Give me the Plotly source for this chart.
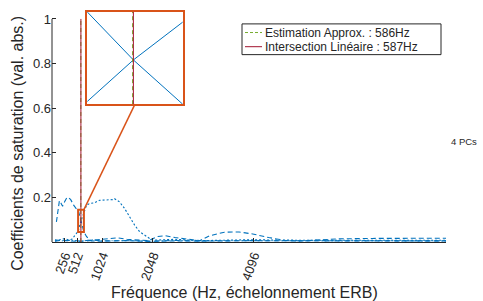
import plotly.graph_objects as go

# ---------------- data ----------------
freq_a = [90, 120, 150, 180, 215, 256, 300, 330, 380, 440, 490, 530, 587, 648, 700, 750, 800, 900,
          1000, 1500, 2000, 2500, 3000, 4000, 5000, 6000, 7000, 8000]
coef_a = [0.09, 0.14, 0.185, 0.175, 0.16, 0.18, 0.198, 0.2, 0.19, 0.165, 0.15, 0.145, 0.093, 0.045,
          0.025, 0.012, 0.005, 0.003, 0.004, 0.006, 0.003, 0.005, 0.004, 0.006, 0.005, 0.006, 0.005, 0.005]

freq_b = [60, 150, 250, 330, 400, 450, 490, 530, 587, 648, 700, 765, 865, 967, 1100, 1230, 1270, 1370,
          1475, 1580, 1680, 1780, 1880, 1980, 2060, 2200, 2500, 3000, 3500, 4000, 5000, 6000, 7000, 8000]
coef_b = [0.005, 0.01, 0.015, 0.01, 0.012, 0.025, 0.035, 0.048, 0.093, 0.134, 0.164, 0.173, 0.176,
          0.187, 0.187, 0.19, 0.194, 0.18, 0.15, 0.11, 0.075, 0.046, 0.03, 0.016, 0.008, 0.01, 0.012,
          0.006, 0.008, 0.01, 0.008, 0.007, 0.008, 0.008]

freq_c = [60, 200, 350, 500, 700, 900, 1170, 1330, 1520, 1720, 1950, 2150, 2300, 2500, 2800, 3000,
          3200, 3500, 3800, 4100, 4400, 4700, 5000, 5300, 5800, 6500, 7200, 8000]
coef_c = [0.003, 0.008, 0.005, 0.003, 0.005, 0.01, 0.016, 0.019, 0.012, 0.008, 0.006, 0.025, 0.028,
          0.02, 0.01, 0.006, 0.028, 0.044, 0.045, 0.035, 0.02, 0.008, 0.004, 0.008, 0.014, 0.016,
          0.018, 0.017]

freq_d = [60, 200, 400, 600, 800, 1000, 1500, 2000, 2500, 3000, 4000, 5000, 6000, 7000, 8000]
coef_d = [0.01, 0.005, 0.008, 0.003, 0.01, 0.005, 0.006, 0.004, 0.007, 0.005, 0.006, 0.004, 0.005,
          0.005, 0.005]

tick_freqs = [256, 512, 1024, 2048, 4096]
y_ticks = [0.2, 0.4, 0.6, 0.8, 1]

approx_freq = 586
linear_freq = 587
approx_label = "Estimation Approx. : 586Hz"
linear_label = "Intersection Linéaire : 587Hz"
zoom_x = [530, 648]
zoom_y = [0.045, 0.145]
x_max = 8000
pc_label = "4 PCs"
x_title = "Fréquence (Hz, échelonnement ERB)"
y_title = "Coefficients de saturation (val. abs.)"

# ---------------- style ----------------
BLUE = "#0072BD"
GREEN = "#77AC30"
RED = "#A2142F"
ORANGE = "#D95319"
AX = "#262626"
FONT = "Liberation Sans, Arial, sans-serif"

W, H = 483, 301
ML, MR, MT, MB = 52, 37, 10, 59
plot_w = W - ML - MR
plot_h = H - MT - MB
y_top = 1.0 * plot_h / (242 - 17)


def px_x(px):
    return (px - ML) / plot_w


def px_y(py):
    return (H - MB - py) / plot_h


fig = go.Figure()

styles = ["5px,3px", "2px,2px", "5px,3px", "5px,2px,1px,2px"]
for (fx, cy), dsh in zip([(freq_a, coef_a), (freq_b, coef_b), (freq_c, coef_c), (freq_d, coef_d)], styles):
    fig.add_trace(go.Scatter(x=fx, y=cy, mode="lines", line=dict(color=BLUE, width=1.1, dash=dsh),
                             showlegend=False, hoverinfo="skip"))

fig.add_trace(go.Scatter(x=[approx_freq, approx_freq], y=[0, 1], mode="lines",
                         line=dict(color=GREEN, width=1, dash="4px,3px"), name=approx_label,
                         showlegend=False))
fig.add_trace(go.Scatter(x=[linear_freq, linear_freq], y=[0, 1], mode="lines",
                         line=dict(color=RED, width=1), name=linear_label, showlegend=False))

# inset traces
for fx, cy in [(freq_a, coef_a), (freq_b, coef_b)]:
    fig.add_trace(go.Scatter(x=fx, y=cy, mode="lines", line=dict(color=BLUE, width=1),
                             xaxis="x2", yaxis="y2", showlegend=False, hoverinfo="skip"))
fig.add_trace(go.Scatter(x=[approx_freq, approx_freq], y=zoom_y, mode="lines",
                         line=dict(color=GREEN, width=1, dash="4px,3px"),
                         xaxis="x2", yaxis="y2", showlegend=False))
fig.add_trace(go.Scatter(x=[linear_freq, linear_freq], y=zoom_y, mode="lines",
                         line=dict(color=RED, width=1),
                         xaxis="x2", yaxis="y2", showlegend=False))

inset_x = [px_x(87.3), px_x(182.7)]
inset_y = [px_y(103), 1.0]

# zoom rectangle in main axes
fig.add_shape(type="rect", xref="x", yref="y", x0=zoom_x[0], x1=zoom_x[1], y0=zoom_y[0], y1=zoom_y[1],
              line=dict(color=ORANGE, width=2))
# connector line (paper coords computed from data)
fig.add_shape(type="line", xref="paper", yref="paper",
              x0=(inset_x[0] + inset_x[1]) / 2, y0=inset_y[0],
              x1=zoom_x[1] / x_max, y1=zoom_y[1] / y_top,
              line=dict(color=ORANGE, width=1.5))
# y axis line from 0 to 1
fig.add_shape(type="line", xref="paper", yref="y", x0=0, x1=0, y0=0, y1=1,
              line=dict(color=AX, width=1))

# manual legend (box, samples, labels)
fig.add_shape(type="rect", xref="paper", yref="paper", x0=px_x(242), x1=px_x(441), y0=px_y(53), y1=px_y(22),
              line=dict(color=AX, width=1), fillcolor="white", layer="above")
for py, col, dsh, lab in [(30.7, GREEN, "3px,2px", approx_label), (45.0, RED, "solid", linear_label)]:
    fig.add_shape(type="line", xref="paper", yref="paper", x0=px_x(245), x1=px_x(262), y0=px_y(py), y1=px_y(py),
                  line=dict(color=col, width=1, dash=dsh), layer="above")
    fig.add_annotation(x=px_x(263), y=px_y(py), xref="paper", yref="paper", text=lab, showarrow=False,
                       xanchor="left", yanchor="middle", font=dict(size=12, color=AX, family=FONT))

fig.add_annotation(x=px_x(449), y=px_y(141), xref="paper", yref="paper",
                   text=pc_label, showarrow=False, xanchor="left", yanchor="middle",
                   font=dict(size=9.5, color=AX, family=FONT))

# y axis title as rotated text
fig.add_annotation(x=px_x(18), y=px_y(143), xref="paper", yref="paper", text=y_title, textangle=-90,
                   showarrow=False, xanchor="center", yanchor="middle",
                   font=dict(size=16, color=AX, family=FONT))

# x axis title as text centred like the reference
fig.add_annotation(x=px_x(244), y=px_y(293), xref="paper", yref="paper", text=x_title,
                   showarrow=False, xanchor="center", yanchor="middle",
                   font=dict(size=16, color=AX, family=FONT))

fig.update_layout(
    width=W, height=H, margin=dict(l=ML, r=MR, t=MT, b=MB),
    paper_bgcolor="white", plot_bgcolor="white",
    font=dict(family=FONT, color=AX),
    showlegend=False,
    xaxis=dict(range=[0, x_max], tickvals=tick_freqs, ticktext=[str(t) for t in tick_freqs],
               tickangle=-70, ticks="inside", ticklen=4, tickcolor=AX, showgrid=False,
               zeroline=False, showline=True, linecolor=AX, linewidth=1,
               tickfont=dict(size=13, color=AX)),
    yaxis=dict(range=[0, y_top], tickvals=y_ticks, ticks="inside", ticklen=4, tickcolor=AX,
               showgrid=False, zeroline=False, showline=False, tickfont=dict(size=13, color=AX)),
    xaxis2=dict(domain=inset_x, range=zoom_x, anchor="y2", showticklabels=False, ticks="",
                showgrid=False, zeroline=False, showline=True, mirror=True, linecolor=ORANGE, linewidth=2),
    yaxis2=dict(domain=inset_y, range=zoom_y, anchor="x2", showticklabels=False, ticks="",
                showgrid=False, zeroline=False, showline=True, mirror=True, linecolor=ORANGE, linewidth=2),
)

fig.write_html("out.html", config={"displayModeBar": False},
               post_script="document.body.style.margin='0';")
